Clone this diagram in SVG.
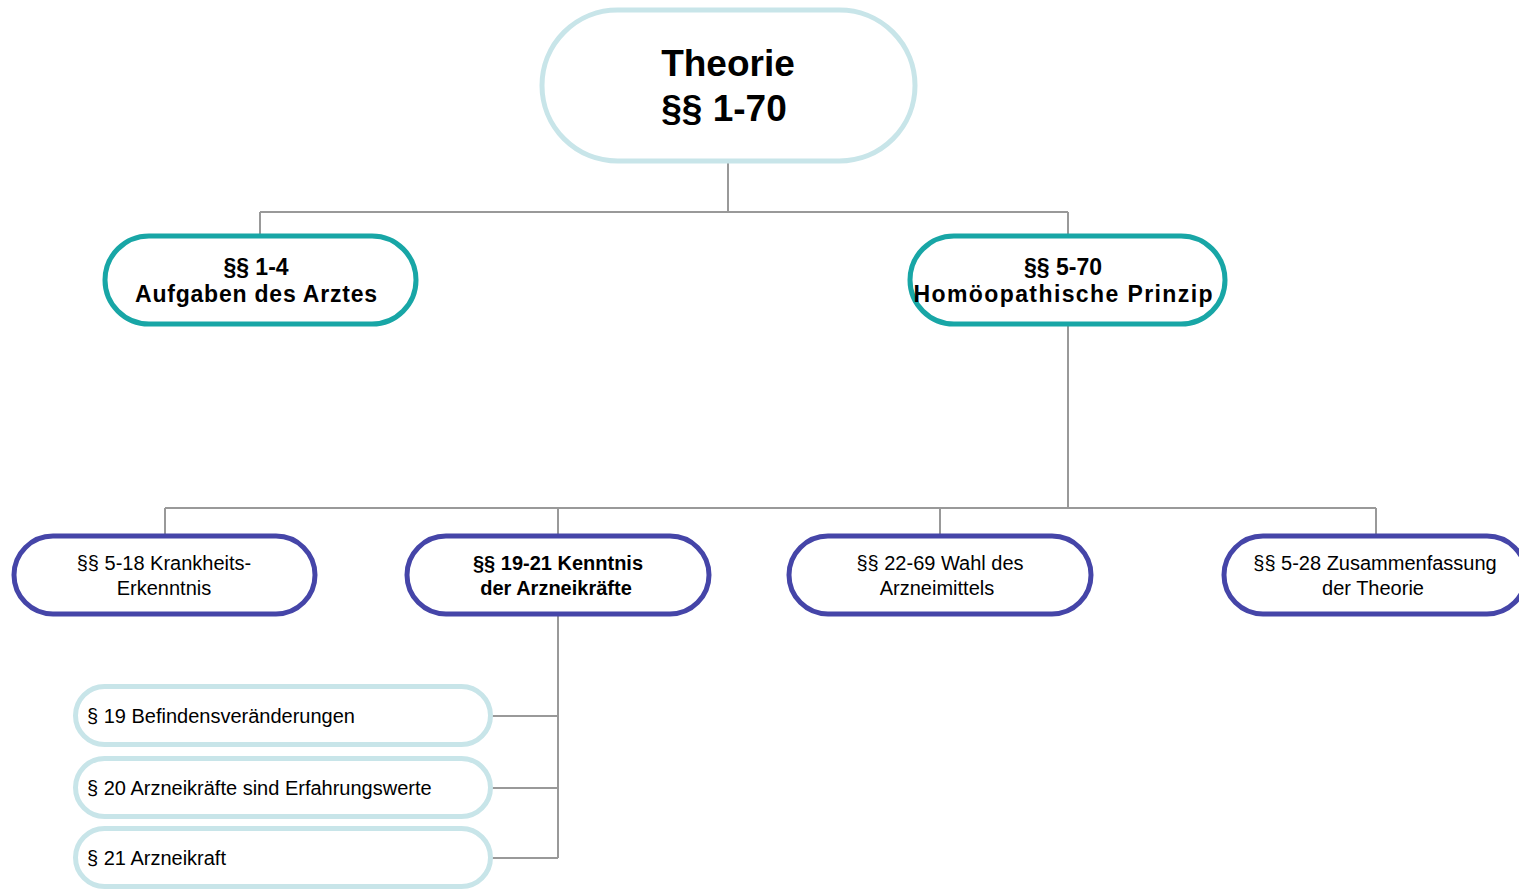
<svg xmlns="http://www.w3.org/2000/svg" width="1519" height="890" viewBox="0 0 1519 890">
<style>
.bg{fill:#ffffff}
.root{fill:#ffffff;stroke:#C8E5E9;stroke-width:5}
.l2{fill:#ffffff;stroke:#18A6A6;stroke-width:5}
.l3{fill:#ffffff;stroke:#4545A8;stroke-width:5}
.l4{fill:#ffffff;stroke:#C8E5E9;stroke-width:5}
.conn{fill:none;stroke:#999999;stroke-width:2}
text{font-family:"Liberation Sans",Arial,sans-serif;fill:#000000}
.t1{font-size:37px;font-weight:bold;text-anchor:middle}
.t2{font-size:23px;font-weight:bold;text-anchor:middle}
.t3{font-size:20px;text-anchor:middle}
.t3b{font-size:20px;font-weight:bold;text-anchor:middle}
.t4{font-size:20px}
</style>
<rect class="bg" x="0" y="0" width="1519" height="890"/>
<g id="connectors">
<path class="conn" d="M728,161 V212 M260,212 H1068 M260,212 V236 M1068,212 V236"/>
<path class="conn" d="M1068,324 V508 M165,508 H1376 M165,508 V536 M558,508 V536 M940,508 V536 M1376,508 V536"/>
<path class="conn" d="M558,614 V858 M491,716 H558 M491,788 H558 M491,858 H558"/>
</g>
<g id="root">
<rect class="root" x="542" y="10" width="373" height="151" rx="75.5"/>
<text class="t1" x="728" y="76">Theorie</text>
<text class="t1" x="724" y="121">§§ 1-70</text>
</g>
<g id="n-aufgaben">
<rect class="l2" x="105" y="236" width="311" height="88" rx="44"/>
<text class="t2" x="256" y="275">§§ 1-4</text>
<text class="t2" x="256" y="302" textLength="242" lengthAdjust="spacing">Aufgaben des Arztes</text>
</g>
<g id="n-prinzip">
<rect class="l2" x="910" y="236" width="315" height="88" rx="44"/>
<text class="t2" x="1063" y="275">§§ 5-70</text>
<text class="t2" x="1063" y="302" textLength="299" lengthAdjust="spacing">Homöopathische Prinzip</text>
</g>
<g id="n-krankheit">
<rect class="l3" x="14" y="536" width="301" height="78" rx="39"/>
<text class="t3" x="164" y="570">§§ 5-18 Krankheits-</text>
<text class="t3" x="164" y="595">Erkenntnis</text>
</g>
<g id="n-kenntnis">
<rect class="l3" x="407" y="536" width="302" height="78" rx="39"/>
<text class="t3b" x="558" y="570">§§ 19-21 Kenntnis</text>
<text class="t3b" x="556" y="595">der Arzneikräfte</text>
</g>
<g id="n-wahl">
<rect class="l3" x="789" y="536" width="302" height="78" rx="39"/>
<text class="t3" x="940" y="570">§§ 22-69 Wahl des</text>
<text class="t3" x="937" y="595">Arzneimittels</text>
</g>
<g id="n-zusammen">
<rect class="l3" x="1224" y="536" width="302" height="78" rx="39"/>
<text class="t3" x="1375" y="570">§§ 5-28 Zusammenfassung</text>
<text class="t3" x="1373" y="595">der Theorie</text>
</g>
<g id="n-19">
<rect class="l4" x="75.5" y="686.5" width="415" height="58" rx="29"/>
<text class="t4" x="87" y="723">§ 19 Befindensveränderungen</text>
</g>
<g id="n-20">
<rect class="l4" x="75.5" y="758.5" width="415" height="58" rx="29"/>
<text class="t4" x="87" y="795">§ 20 Arzneikräfte sind Erfahrungswerte</text>
</g>
<g id="n-21">
<rect class="l4" x="75.5" y="828.5" width="415" height="58" rx="29"/>
<text class="t4" x="87" y="865">§ 21 Arzneikraft</text>
</g>
</svg>
